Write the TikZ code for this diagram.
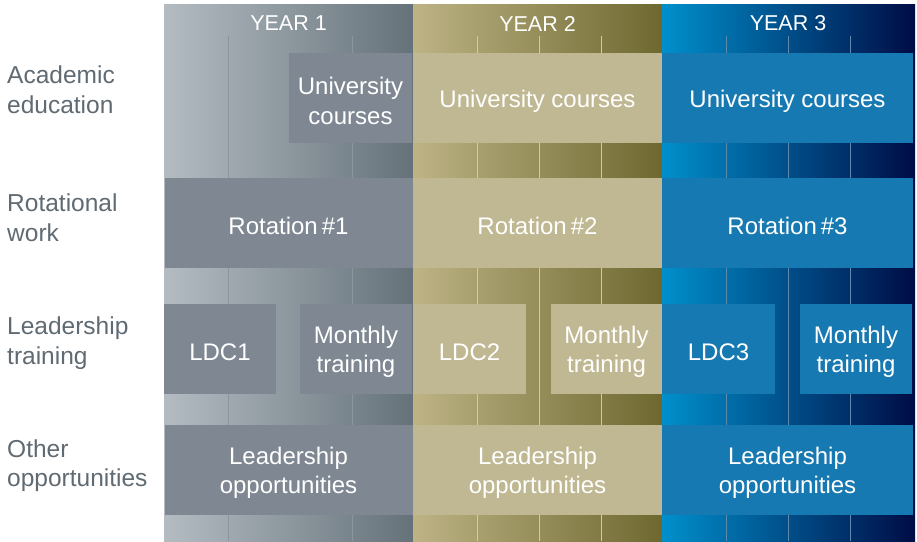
\documentclass[tikz,border=0pt]{standalone}
\usepackage{fontspec}
\setmainfont{Liberation Sans}
\usepackage{xcolor}
\usepackage{tikz}
\definecolor{yearoneleft}{HTML}{B4BCC2}
\definecolor{yearoneright}{HTML}{65727A}
\definecolor{yearonebox}{HTML}{7F8892}
\definecolor{yearoneline}{HTML}{8C959C}
\definecolor{yeartwoleft}{HTML}{BDB385}
\definecolor{yeartworight}{HTML}{6E6830}
\definecolor{yeartwobox}{HTML}{C0B892}
\definecolor{yeartwoline}{HTML}{D2CAA4}
\definecolor{yearthreeleft}{HTML}{0090CC}
\definecolor{yearthreeright}{HTML}{000C45}
\definecolor{yearthreebox}{HTML}{1779B1}
\definecolor{yearthreeline}{HTML}{6189AE}
\definecolor{labelcolor}{HTML}{5F6A72}
\newcommand{\lift}{\rule{0pt}{23pt}}
\tikzset{%
  cellbox/.style={rectangle, inner sep=0pt, text=white, align=center, font=\fontsize{24}{29.5}\selectfont},%
  rowlabel/.style={anchor=west, inner sep=0pt, text=labelcolor, align=left, font=\fontsize{24.5}{29.5}\selectfont},%
  yearhead/.style={inner sep=0pt, text=white, font=\fontsize{21.5}{26}\selectfont},%
  quarterline/.style={line width=0.9pt}%
}

\begin{document}
\begin{tikzpicture}[x=1pt, y=-1pt]%
\useasboundingbox (0,0) rectangle (917,541);%
\shade[left color=yearoneleft, right color=yearoneright] (164,4) rectangle (413,541);%
\shade[left color=yeartwoleft, right color=yeartworight] (413,4) rectangle (662,541);%
\shade[left color=yearthreeleft, right color=yearthreeright] (662,4) rectangle (915,541);%
\foreach \dx in {64, 126, 188} {%
  \draw[quarterline, yearoneline] (164+\dx,36) -- (164+\dx,541);%
  \draw[quarterline, yeartwoline] (413+\dx,36) -- (413+\dx,541);%
  \draw[quarterline, yearthreeline] (662+\dx,36) -- (662+\dx,541);%
}%
\node[yearhead] (head1) at (288.5, 23.5) {YEAR 1};%
\node[yearhead] (head2) at (537.5, 23.5) {YEAR 2};%
\node[yearhead] (head3) at (788, 23.5) {YEAR 3};%
\node[rowlabel] (acadlabel) at (7, 89.5) {Academic\\education};%
\node[rowlabel] (rotlabel) at (7, 217.5) {Rotational\\work};%
\node[rowlabel] (leadlabel) at (7, 343) {Leadership\\training};%
\node[rowlabel] (otherlabel) at (7, 465.5) {Other\\opportunities};%
\node[cellbox, minimum width=123, minimum height=90, fill=yearonebox] (acad1) at (350.5, 98) {\lift University\\courses};%
\node[cellbox, minimum width=249, minimum height=90, fill=yeartwobox] (acad2) at (537.5, 98) {\lift University courses};%
\node[cellbox, minimum width=251, minimum height=90, fill=yearthreebox] (acad3) at (787.5, 98) {\lift University courses};%
\node[cellbox, minimum width=248, minimum height=90, fill=yearonebox] (rot1) at (288.5, 223) {\lift Rotation\,\#1};%
\node[cellbox, minimum width=249, minimum height=90, fill=yeartwobox] (rot2) at (537.5, 223) {\lift Rotation\,\#2};%
\node[cellbox, minimum width=251, minimum height=90, fill=yearthreebox] (rot3) at (787.5, 223) {\lift Rotation\,\#3};%
\node[cellbox, minimum width=112, minimum height=90, fill=yearonebox] (ldc1) at (220, 349) {\lift LDC1};%
\node[cellbox, minimum width=112, minimum height=90, fill=yearonebox] (monthly1) at (356, 349) {\lift Monthly\\training};%
\node[cellbox, minimum width=113, minimum height=90, fill=yeartwobox] (ldc2) at (469.5, 349) {\lift LDC2};%
\node[cellbox, minimum width=111, minimum height=90, fill=yeartwobox] (monthly2) at (606.5, 349) {\lift Monthly\\training};%
\node[cellbox, minimum width=113, minimum height=90, fill=yearthreebox] (ldc3) at (718.5, 349) {\lift LDC3};%
\node[cellbox, minimum width=112, minimum height=90, fill=yearthreebox] (monthly3) at (856, 349) {\lift Monthly\\training};%
\node[cellbox, minimum width=248, minimum height=90, fill=yearonebox] (other1) at (288.5, 470) {\lift Leadership\\opportunities};%
\node[cellbox, minimum width=249, minimum height=90, fill=yeartwobox] (other2) at (537.5, 470) {\lift Leadership\\opportunities};%
\node[cellbox, minimum width=251, minimum height=90, fill=yearthreebox] (other3) at (787.5, 470) {\lift Leadership\\opportunities};%
\end{tikzpicture}
\end{document}
